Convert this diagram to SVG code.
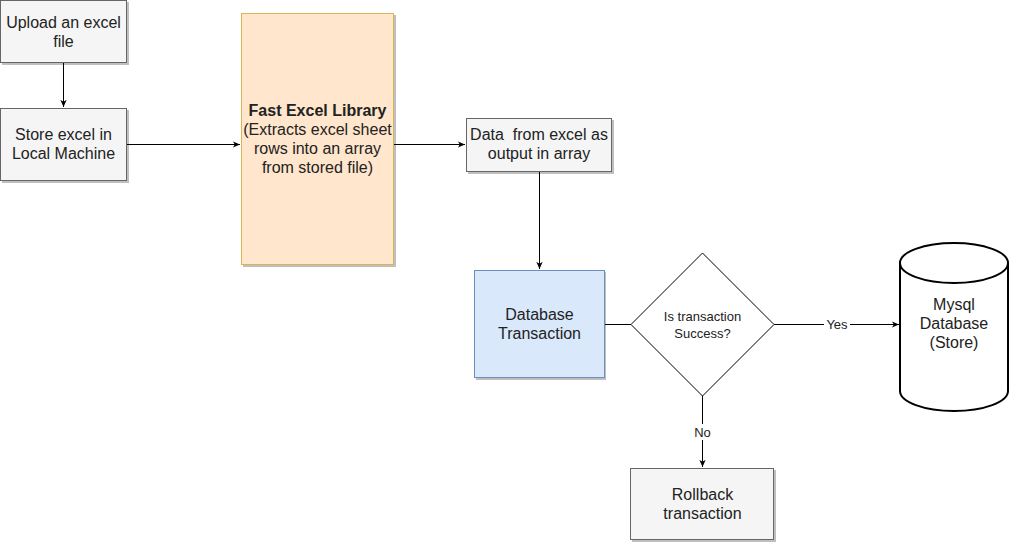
<svg xmlns="http://www.w3.org/2000/svg" width="1011" height="546" viewBox="0 0 1011 546">
<defs>
<style>
text{font-family:"Liberation Sans",Arial,sans-serif;fill:#222;text-anchor:middle}
.t{font-size:16px}
.s{font-size:13px}
.box{fill:#f5f5f5;stroke:#666666;stroke-width:1}
.sh{fill:#000;opacity:0.25}
.ln{fill:none;stroke:#000;stroke-width:1}
</style>
<marker id="ah" viewBox="0 0 10 10" refX="9" refY="5" markerWidth="8" markerHeight="8" markerUnits="userSpaceOnUse" orient="auto">
<path d="M0,1 L9,5 L0,9 L2.5,5 Z" fill="#000"/>
</marker>
</defs>
<rect width="1011" height="546" fill="#fff"/>
<g id="connectors">
<line class="ln" x1="63.5" y1="63" x2="63.5" y2="107" marker-end="url(#ah)"/>
<line class="ln" x1="127" y1="144.5" x2="240" y2="144.5" marker-end="url(#ah)"/>
<line class="ln" x1="394" y1="144.5" x2="465" y2="144.5" marker-end="url(#ah)"/>
<line class="ln" x1="539.5" y1="172" x2="539.5" y2="269" marker-end="url(#ah)"/>
<line class="ln" x1="604" y1="324.5" x2="631" y2="324.5"/>
<line class="ln" x1="774" y1="324.5" x2="899" y2="324.5" marker-end="url(#ah)"/>
<rect x="824" y="316" width="26" height="16" fill="#fff"/>
<text class="s" x="837" y="329">Yes</text>
<line class="ln" x1="702.5" y1="396" x2="702.5" y2="467" marker-end="url(#ah)"/>
<rect x="691" y="424" width="24" height="16" fill="#fff"/>
<text class="s" x="702.5" y="437">No</text>
</g>
<g id="upload">
<rect class="sh" x="2" y="2" width="127" height="63"/>
<rect class="box" x="0.5" y="0.5" width="126" height="62"/>
<text class="t" x="63.5" y="28">Upload an excel</text>
<text class="t" x="63.5" y="47">file</text>
</g>
<g id="store">
<rect class="sh" x="2" y="110" width="127" height="73"/>
<rect class="box" x="0.5" y="108.5" width="126" height="72"/>
<text class="t" x="63.5" y="140">Store excel in</text>
<text class="t" x="63.5" y="159">Local Machine</text>
</g>
<g id="fastexcel">
<rect class="sh" x="243" y="15" width="153" height="252"/>
<rect x="241.5" y="13.5" width="152" height="251" fill="#ffe6cc" stroke="#d6b656"/>
<text class="t" x="317.5" y="116" font-weight="bold">Fast Excel Library</text>
<text class="t" x="317.5" y="135">(Extracts excel sheet</text>
<text class="t" x="317.5" y="154">rows into an array</text>
<text class="t" x="317.5" y="173">from stored file)</text>
</g>
<g id="data">
<rect class="sh" x="468" y="120" width="146" height="54"/>
<rect class="box" x="466.5" y="118.5" width="145" height="53"/>
<text class="t" x="539" y="140" xml:space="preserve" style="white-space:pre">Data  from excel as</text>
<text class="t" x="539" y="159">output in array</text>
</g>
<g id="dbtx">
<rect class="sh" x="476" y="272" width="130" height="108"/>
<rect x="474.5" y="270.5" width="130" height="107" fill="#dae8fc" stroke="#6c8ebf"/>
<text class="t" x="539.5" y="320">Database</text>
<text class="t" x="539.5" y="339">Transaction</text>
</g>
<g id="decision">
<polygon points="702.5,253 774,324.5 702.5,396 631,324.5" fill="#fff" stroke="#000"/>
<text class="s" x="702.5" y="321">Is transaction</text>
<text class="s" x="702.5" y="338">Success?</text>
</g>
<g id="mysql">
<path d="M900,263 A54,20 0 0 1 1008,263 L1008,391 A54,20 0 0 1 900,391 Z" fill="#fff" stroke="#000" stroke-width="2"/>
<path d="M900,263 A54,20 0 0 0 1008,263" fill="none" stroke="#000" stroke-width="2"/>
<text class="t" x="954" y="310">Mysql</text>
<text class="t" x="954" y="329">Database</text>
<text class="t" x="954" y="348">(Store)</text>
</g>
<g id="rollback">
<rect class="sh" x="632" y="470" width="144" height="72"/>
<rect class="box" x="630.5" y="468.5" width="143" height="71"/>
<text class="t" x="702.5" y="500">Rollback</text>
<text class="t" x="702.5" y="519">transaction</text>
</g>
</svg>
